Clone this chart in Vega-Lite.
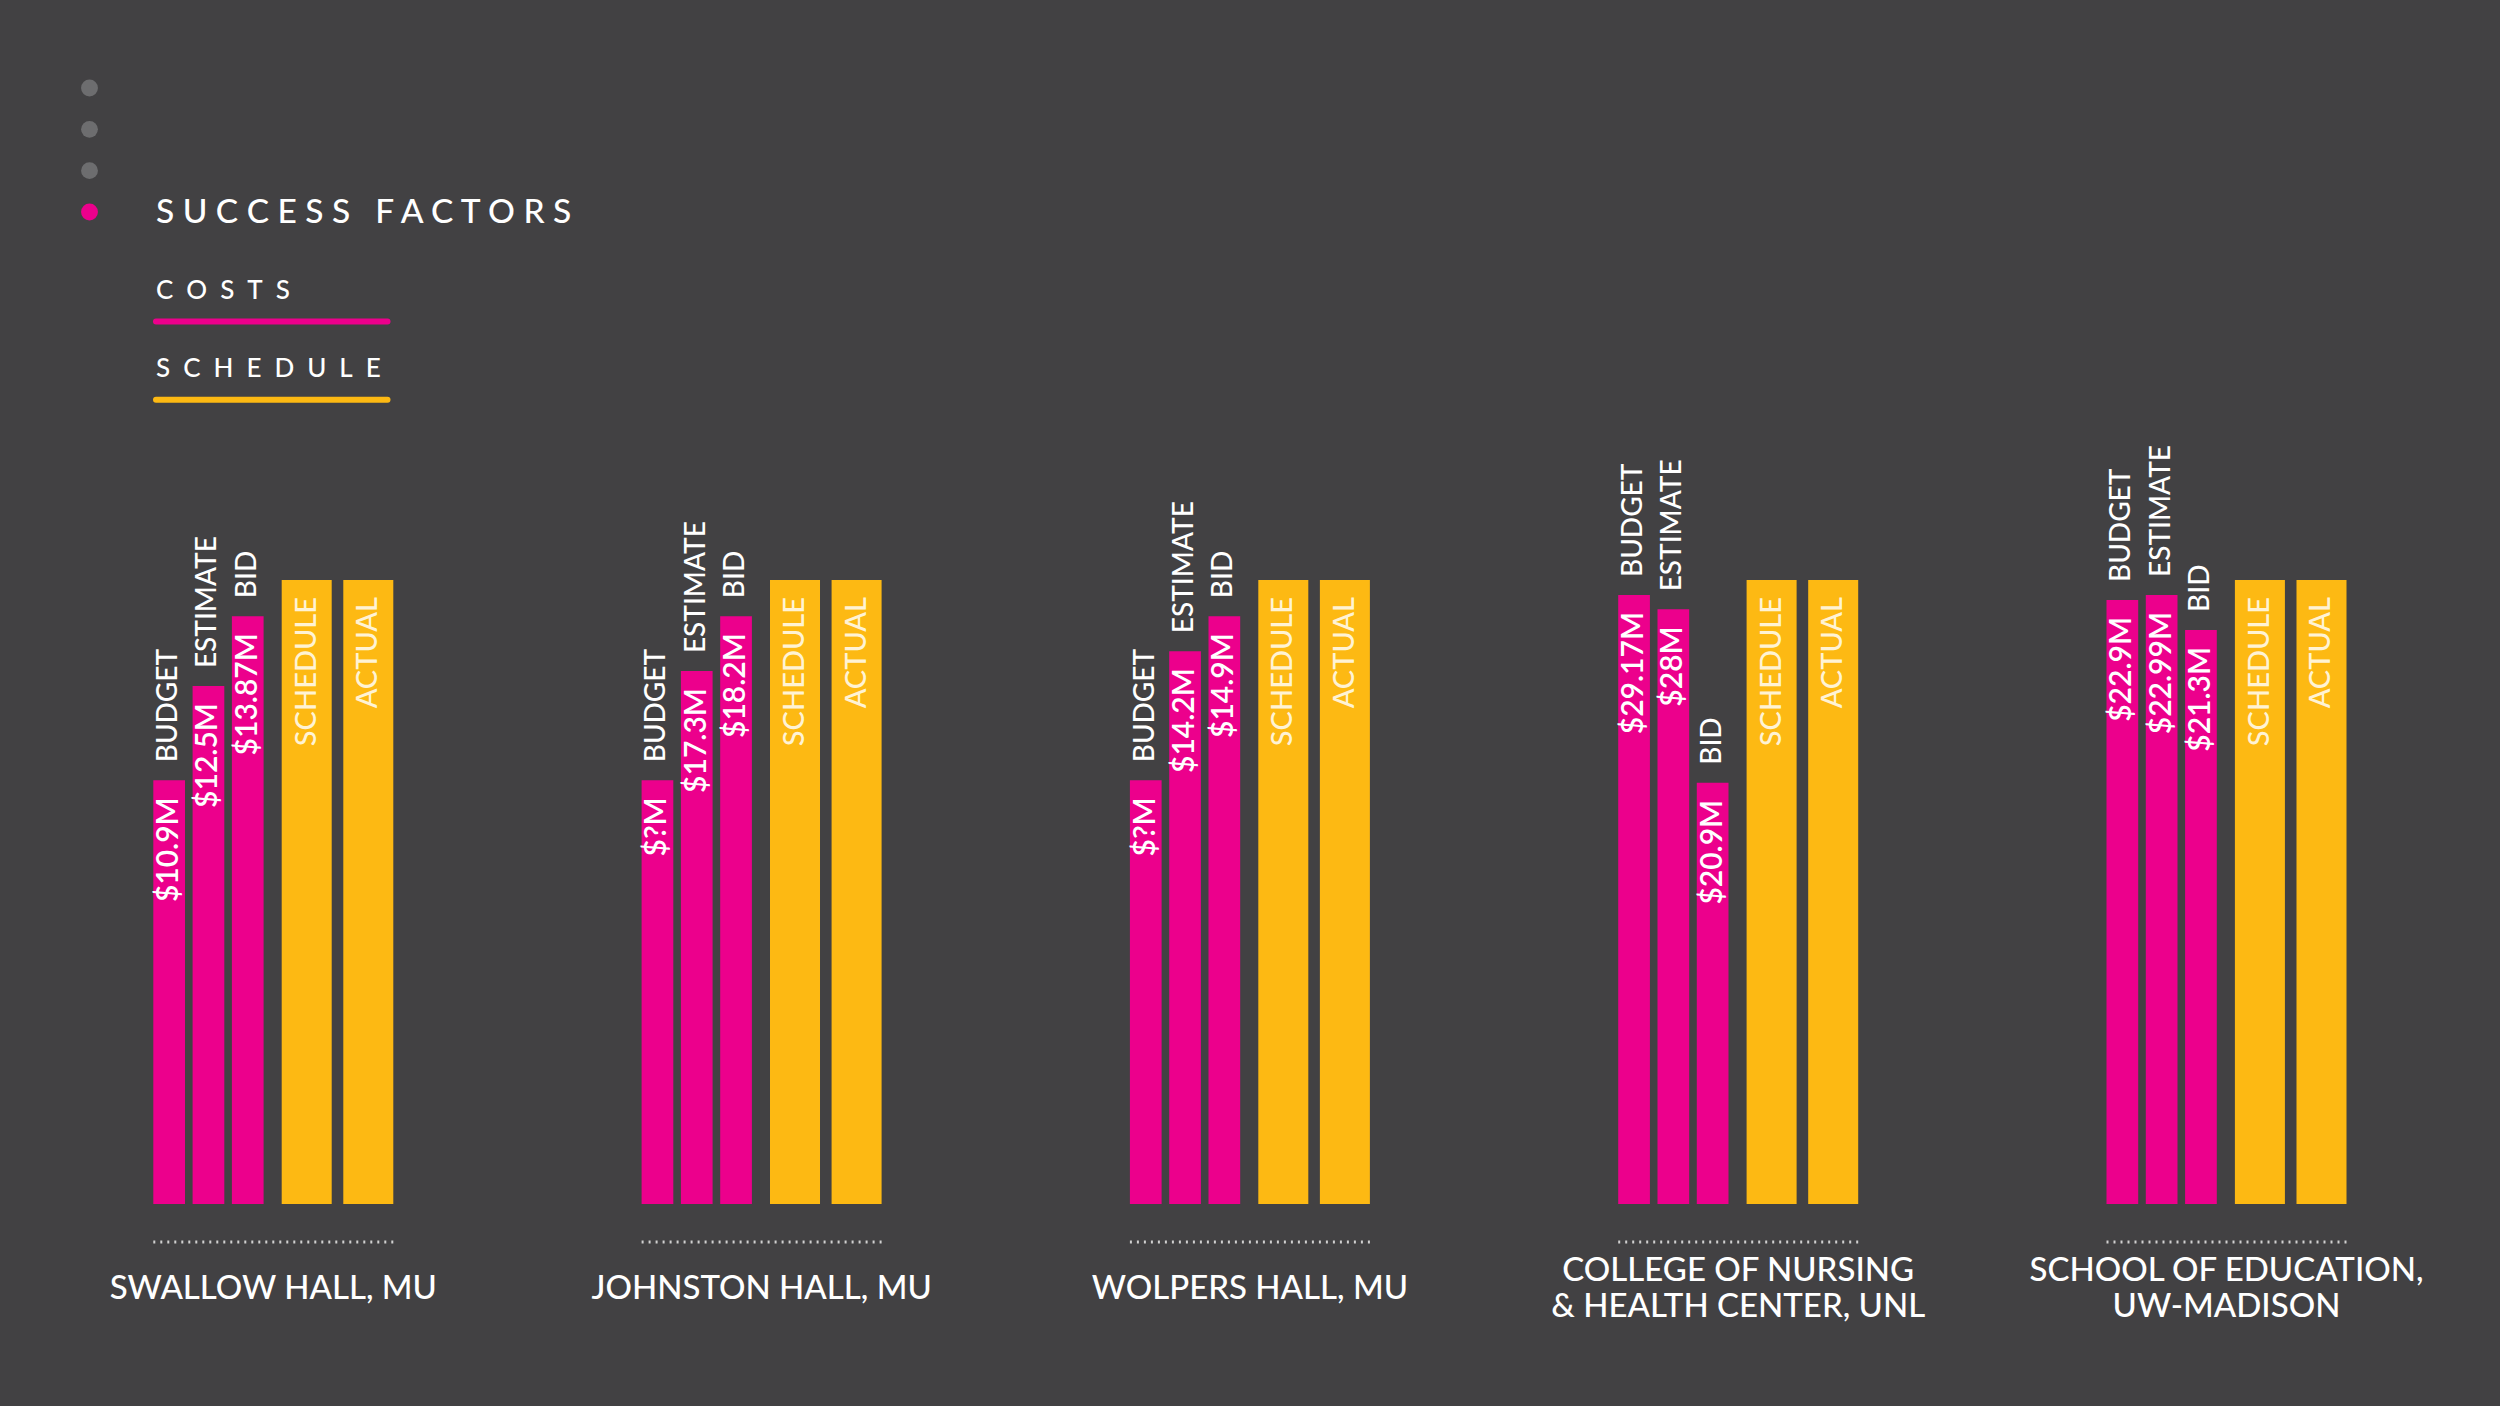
{
  "$schema": "https://vega.github.io/schema/vega-lite/v6.json",
  "background": "#424143",
  "padding": {"left": 80, "top": 78, "right": 0, "bottom": 0},
  "config": {
    "view": {"stroke": null},
    "font": "Lato"
  },
  "bounds": "flush",
  "spacing": 54.3,
  "resolve": {"scale": {"color": "independent", "x": "independent", "y": "independent"}},
  "hconcat": [
    {
      "width": 19,
      "height": 144,
      "data": {"values": [
        {"step": 1, "state": "past"},
        {"step": 2, "state": "past"},
        {"step": 3, "state": "past"},
        {"step": 4, "state": "current"}
      ]},
      "mark": {"type": "circle", "size": 284, "opacity": 1},
      "encoding": {
        "y": {"field": "step", "type": "ordinal", "scale": {"type": "point", "range": [10, 134], "padding": 0}, "axis": null},
        "color": {"field": "state", "type": "nominal", "scale": {"domain": ["past", "current"], "range": ["#6D6D6F", "#EC008C"]}, "legend": null}
      }
    },
    {
      "bounds": "flush",
      "spacing": 172,
      "resolve": {"scale": {"color": "independent", "x": "independent", "y": "independent"}},
      "vconcat": [
        {
          "width": 2346.7,
          "height": 330,
          "data": {"values": [
            {"item": "S U C C E S S\u2002 F A C T O R S", "kind": "title"},
            {"item": "C\u2002O\u2002S\u2002T\u2002S", "kind": "legend"},
            {"item": "S\u2002C\u2002H\u2002E\u2002D\u2002U\u2002L\u2002E", "kind": "legend"}
          ]},
          "encoding": {
            "y": {"field": "item", "type": "nominal", "sort": ["S U C C E S S\u2002 F A C T O R S", "C\u2002O\u2002S\u2002T\u2002S", "S\u2002C\u2002H\u2002E\u2002D\u2002U\u2002L\u2002E"], "scale": {"type": "point", "range": [134.8, 291], "padding": 0}, "axis": null},
            "x": {"datum": 0, "type": "quantitative", "scale": {"domain": [0, 1], "range": [2.7, 234.2]}, "axis": null}
          },
          "layer": [
            {
              "transform": [{"filter": "datum.kind === 'title'"}],
              "mark": {"type": "text", "align": "left", "baseline": "middle", "fontSize": 33.5, "fontWeight": 500, "fill": "#FFFFFF"},
              "encoding": {"text": {"field": "item"}}
            },
            {
              "transform": [{"filter": "datum.kind === 'legend'"}],
              "mark": {"type": "text", "align": "left", "baseline": "middle", "fontSize": 26, "fontWeight": 500, "fill": "#FFFFFF"},
              "encoding": {"text": {"field": "item"}}
            },
            {
              "transform": [{"filter": "datum.kind === 'legend'"}],
              "mark": {"type": "rule", "strokeWidth": 6, "strokeCap": "round", "yOffset": 30.7},
              "encoding": {
                "x2": {"datum": 1},
                "color": {"field": "item", "type": "nominal", "scale": {"domain": ["C\u2002O\u2002S\u2002T\u2002S", "S\u2002C\u2002H\u2002E\u2002D\u2002U\u2002L\u2002E"], "range": ["#EC008C", "#FDB913"]}, "legend": null}
              }
            }
          ]
        },
        {
          "data": {"values": [
            {"building": "SWALLOW HALL, MU", "measure": "BUDGET", "group": "COSTS", "bar": 67.9, "amount": "$10.9M"},
            {"building": "SWALLOW HALL, MU", "measure": "ESTIMATE", "group": "COSTS", "bar": 83.0, "amount": "$12.5M"},
            {"building": "SWALLOW HALL, MU", "measure": "BID", "group": "COSTS", "bar": 94.2, "amount": "$13.87M"},
            {"building": "SWALLOW HALL, MU", "measure": "SCHEDULE", "group": "SCHEDULE", "bar": 100, "amount": ""},
            {"building": "SWALLOW HALL, MU", "measure": "ACTUAL", "group": "SCHEDULE", "bar": 100, "amount": ""},
            {"building": "JOHNSTON HALL, MU", "measure": "BUDGET", "group": "COSTS", "bar": 67.9, "amount": "$?M"},
            {"building": "JOHNSTON HALL, MU", "measure": "ESTIMATE", "group": "COSTS", "bar": 85.4, "amount": "$17.3M"},
            {"building": "JOHNSTON HALL, MU", "measure": "BID", "group": "COSTS", "bar": 94.2, "amount": "$18.2M"},
            {"building": "JOHNSTON HALL, MU", "measure": "SCHEDULE", "group": "SCHEDULE", "bar": 100, "amount": ""},
            {"building": "JOHNSTON HALL, MU", "measure": "ACTUAL", "group": "SCHEDULE", "bar": 100, "amount": ""},
            {"building": "WOLPERS HALL, MU", "measure": "BUDGET", "group": "COSTS", "bar": 67.9, "amount": "$?M"},
            {"building": "WOLPERS HALL, MU", "measure": "ESTIMATE", "group": "COSTS", "bar": 88.6, "amount": "$14.2M"},
            {"building": "WOLPERS HALL, MU", "measure": "BID", "group": "COSTS", "bar": 94.2, "amount": "$14.9M"},
            {"building": "WOLPERS HALL, MU", "measure": "SCHEDULE", "group": "SCHEDULE", "bar": 100, "amount": ""},
            {"building": "WOLPERS HALL, MU", "measure": "ACTUAL", "group": "SCHEDULE", "bar": 100, "amount": ""},
            {"building": "COLLEGE OF NURSING\n& HEALTH CENTER, UNL", "measure": "BUDGET", "group": "COSTS", "bar": 97.6, "amount": "$29.17M"},
            {"building": "COLLEGE OF NURSING\n& HEALTH CENTER, UNL", "measure": "ESTIMATE", "group": "COSTS", "bar": 95.3, "amount": "$28M"},
            {"building": "COLLEGE OF NURSING\n& HEALTH CENTER, UNL", "measure": "BID", "group": "COSTS", "bar": 67.5, "amount": "$20.9M"},
            {"building": "COLLEGE OF NURSING\n& HEALTH CENTER, UNL", "measure": "SCHEDULE", "group": "SCHEDULE", "bar": 100, "amount": ""},
            {"building": "COLLEGE OF NURSING\n& HEALTH CENTER, UNL", "measure": "ACTUAL", "group": "SCHEDULE", "bar": 100, "amount": ""},
            {"building": "SCHOOL OF EDUCATION,\nUW-MADISON", "measure": "BUDGET", "group": "COSTS", "bar": 96.8, "amount": "$22.9M"},
            {"building": "SCHOOL OF EDUCATION,\nUW-MADISON", "measure": "ESTIMATE", "group": "COSTS", "bar": 97.6, "amount": "$22.99M"},
            {"building": "SCHOOL OF EDUCATION,\nUW-MADISON", "measure": "BID", "group": "COSTS", "bar": 92.0, "amount": "$21.3M"},
            {"building": "SCHOOL OF EDUCATION,\nUW-MADISON", "measure": "SCHEDULE", "group": "SCHEDULE", "bar": 100, "amount": ""},
            {"building": "SCHOOL OF EDUCATION,\nUW-MADISON", "measure": "ACTUAL", "group": "SCHEDULE", "bar": 100, "amount": ""}
          ]},
          "bounds": "flush",
          "spacing": 248.3,
          "facet": {
            "column": {
              "field": "building",
              "type": "nominal",
              "sort": ["SWALLOW HALL, MU", "JOHNSTON HALL, MU", "WOLPERS HALL, MU", "COLLEGE OF NURSING\n& HEALTH CENTER, UNL", "SCHOOL OF EDUCATION,\nUW-MADISON"],
              "header": null
            }
          },
          "spec": {
            "width": 240,
            "height": 826,
            "resolve": {"scale": {"x": "independent"}},
            "layer": [
              {
                "transform": [{"filter": "datum.group === 'COSTS'"}],
                "encoding": {
                  "x": {"field": "measure", "type": "nominal", "scale": {"domain": ["BUDGET", "ESTIMATE", "BID"], "range": [0, 110.3], "paddingInner": 0.193, "paddingOuter": 0}, "axis": null},
                  "y": {"field": "bar", "type": "quantitative", "stack": null, "scale": {"domain": [-32.37, 100], "nice": false, "zero": false}, "axis": null}
                },
                "layer": [
                  {"mark": {"type": "bar", "color": "#EC008C"}},
                  {
                    "mark": {"type": "text", "angle": 270, "align": "left", "baseline": "middle", "dx": 18, "fontSize": 28, "fontWeight": 500, "fill": "#FFFFFF"},
                    "encoding": {"text": {"field": "measure"}}
                  },
                  {
                    "mark": {"type": "text", "angle": 270, "align": "right", "baseline": "middle", "dx": -17, "fontSize": 30, "fontWeight": 600, "fill": "#FFFFFF"},
                    "encoding": {"text": {"field": "amount"}}
                  }
                ]
              },
              {
                "transform": [{"filter": "datum.group === 'SCHEDULE'"}],
                "encoding": {
                  "x": {"field": "measure", "type": "nominal", "scale": {"domain": ["SCHEDULE", "ACTUAL"], "range": [128.4, 240], "paddingInner": 0.188, "paddingOuter": 0}, "axis": null},
                  "y": {"field": "bar", "type": "quantitative", "stack": null, "scale": {"domain": [-32.37, 100], "nice": false, "zero": false}, "axis": null}
                },
                "layer": [
                  {"mark": {"type": "bar", "color": "#FDB913"}},
                  {
                    "mark": {"type": "text", "angle": 270, "align": "right", "baseline": "middle", "dx": -17, "fontSize": 29, "fontWeight": 500, "fill": "#FFF3D4"},
                    "encoding": {"text": {"field": "measure"}}
                  }
                ]
              },
              {
                "transform": [{"filter": "datum.measure === 'BUDGET'"}],
                "mark": {"type": "rule", "strokeDash": [2, 5], "strokeWidth": 3, "color": "#D0D0D0"},
                "encoding": {"y": {"datum": -6.1, "type": "quantitative", "scale": {"domain": [-32.37, 100], "nice": false, "zero": false}, "axis": null}}
              },
              {
                "transform": [{"filter": "datum.measure === 'BUDGET' && indexof(datum.building, '\\n') < 0"}],
                "mark": {"type": "text", "align": "center", "baseline": "middle", "fontSize": 33, "fontWeight": 500, "lineBreak": "\n", "lineHeight": 36, "fill": "#FFFFFF"},
                "encoding": {
                  "y": {"datum": -13.6, "type": "quantitative", "scale": {"domain": [-32.37, 100], "nice": false, "zero": false}, "axis": null},
                  "text": {"field": "building"}
                }
              },
              {
                "transform": [{"filter": "datum.measure === 'BUDGET' && indexof(datum.building, '\\n') >= 0"}],
                "mark": {"type": "text", "align": "center", "baseline": "middle", "dy": -18, "fontSize": 33, "fontWeight": 500, "lineBreak": "\n", "lineHeight": 36, "fill": "#FFFFFF"},
                "encoding": {
                  "y": {"datum": -13.6, "type": "quantitative", "scale": {"domain": [-32.37, 100], "nice": false, "zero": false}, "axis": null},
                  "text": {"field": "building"}
                }
              }
            ]
          }
        }
      ]
    }
  ]
}
